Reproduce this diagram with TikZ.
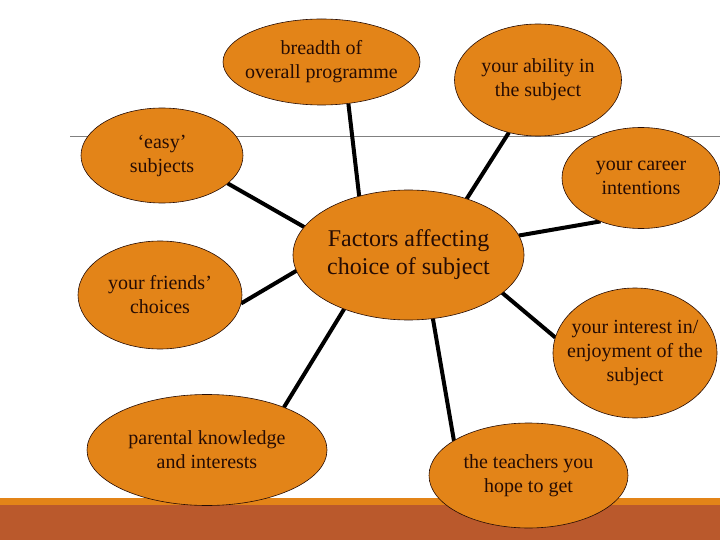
\documentclass[tikz,border=0pt]{standalone}
\usepackage{fontspec}
\setmainfont{Liberation Serif}
\usetikzlibrary{shapes.geometric,backgrounds}

\definecolor{bubbleorange}{RGB}{227,132,24}
\definecolor{bandred}{RGB}{186,89,44}
\definecolor{inkbrown}{RGB}{38,12,4}

\begin{document}
\begin{tikzpicture}[x=1pt, y=-1pt,
  bubble/.style={ellipse, draw=inkbrown, line width=0.6pt, fill=bubbleorange,
                 inner xsep=-20pt, inner ysep=-5pt, outer sep=0pt, align=center,
                 text=inkbrown, font=\fontsize{20}{24}\selectfont},
  hub/.style={bubble, font=\fontsize{24}{28}\selectfont},
  spoke/.style={line width=4pt, black}
]
  \useasboundingbox (0,0) rectangle (720,540);

  \node[hub, minimum width=231pt, minimum height=130pt] (factors) at (408.5,255) {Factors affecting\\choice of subject};
  \node[bubble, minimum width=197pt, minimum height=86pt] (breadth) at (321.5,62) {breadth of\\overall programme};
  \node[bubble, minimum width=167pt, minimum height=112pt] (ability) at (538,80) {your ability in\\the subject};
  \node[bubble, minimum width=162pt, minimum height=95pt] (easy) at (162,155.5) {‘easy’\\subjects};
  \node[bubble, minimum width=158pt, minimum height=101pt] (career) at (641,178) {your career\\intentions};
  \node[bubble, minimum width=164pt, minimum height=108pt] (friends) at (160,295) {your friends’\\choices};
  \node[bubble, minimum width=164pt, minimum height=130pt] (interest) at (635,353) {your interest in/\\enjoyment of the\\subject};
  \node[bubble, minimum width=240pt, minimum height=111pt] (parental) at (207,450) {parental knowledge\\and interests};
  \node[bubble, minimum width=199pt, minimum height=105pt] (teachers) at (528.5,475.5) {the teachers you\\hope to get};

  \begin{scope}[on background layer]
    % slide footer and rule
    \fill[bubbleorange] (0,498) rectangle (720,505);
    \fill[bandred] (0,505) rectangle (720,540);
    \draw[gray, line width=0.8pt] (70,136) -- (720,136);
    % spokes
    \draw[spoke] (factors.130) -- (breadth.-57);
    \draw[spoke] (factors.44) -- (ability.-119.5);
    \draw[spoke] (factors.165) -- (easy.-23.4);
    \draw[spoke] (factors.10.4) -- (career.-133);
    \draw[spoke] (factors.-172) -- (friends.-6.4);
    \draw[spoke] (factors.-22) -- (interest.169);
    \draw[spoke] (factors.-140) -- (parental.29);
    \draw[spoke] (factors.-69) -- (teachers.155);
  \end{scope}
\end{tikzpicture}
\end{document}
